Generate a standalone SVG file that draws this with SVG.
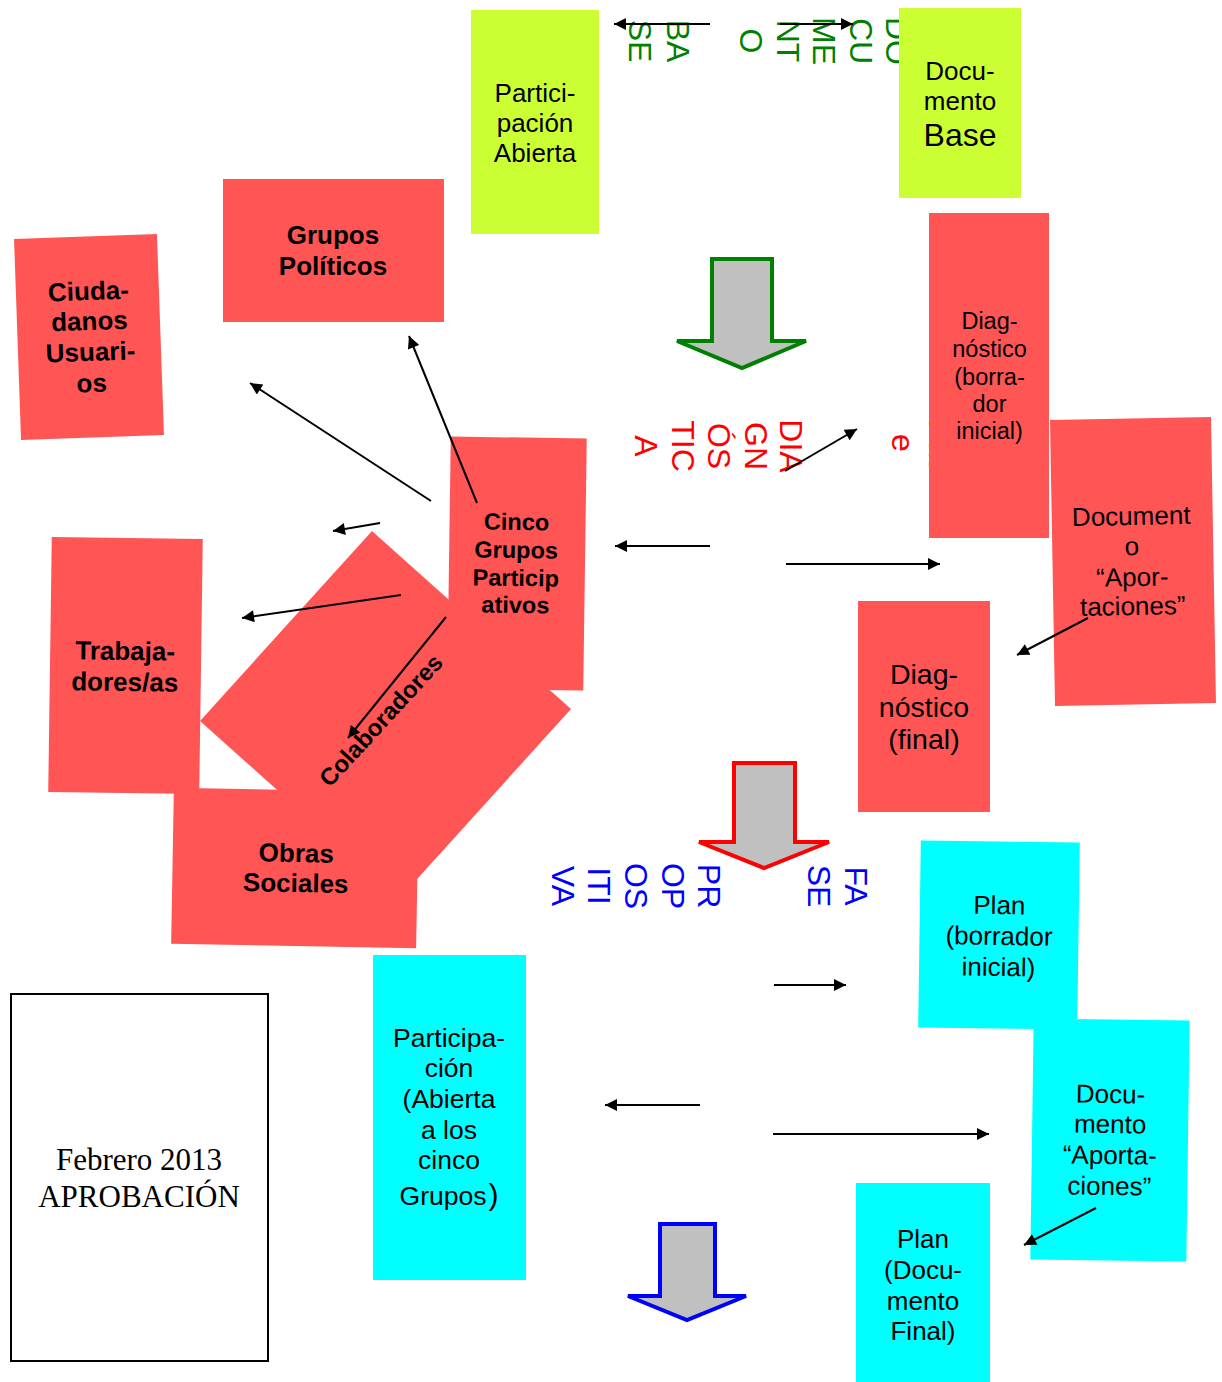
<svg xmlns="http://www.w3.org/2000/svg" width="1222" height="1382" viewBox="0 0 1222 1382">
<style>
.lime{fill:#ccff33}
.red{fill:#ff5555}
.cyan{fill:#00ffff}
.t{font-family:"Liberation Sans",Arial,sans-serif;fill:#000;text-anchor:middle}
.b{font-weight:bold}
.v{font-family:"Liberation Sans",Arial,sans-serif;font-size:32px;text-anchor:middle}
.vg{fill:#008000}
.vr{fill:#ff0000}
.vb{fill:#0000ff}
.big{fill:#c0c0c0;stroke-width:4}
.c{stroke:#000;stroke-width:2;fill:none;marker-end:url(#ah)}
</style>
<defs>
<marker id="ah" viewBox="0 0 10 10" refX="10" refY="5" markerWidth="15" markerHeight="12" markerUnits="userSpaceOnUse" orient="auto"><path d="M0,0 L10,5 L0,10 z" fill="#000"/></marker>
</defs>
<rect width="1222" height="1382" fill="#fff"/>

<!-- vertical labels -->
<g id="label-documento-base" class="v vg">
<text transform="translate(886,41) rotate(90)">DO</text>
<text transform="translate(850,41) rotate(90)">CU</text>
<text transform="translate(813,41) rotate(90)">ME</text>
<text transform="translate(777,41) rotate(90)">NT</text>
<text transform="translate(740,41) rotate(90)">O</text>
<text transform="translate(667,41) rotate(90)">BA</text>
<text transform="translate(629,41) rotate(90)">SE</text>
</g>
<g id="label-fase-diagnostica" class="v vr">
<text transform="translate(929,446) rotate(90)">Fas</text>
<text transform="translate(892,443) rotate(90)">e</text>
<text transform="translate(780,446) rotate(90)">DIA</text>
<text transform="translate(745,446) rotate(90)">GN</text>
<text transform="translate(708,446) rotate(90)">ÓS</text>
<text transform="translate(672,446) rotate(90)">TIC</text>
<text transform="translate(635,446) rotate(90)">A</text>
</g>
<g id="label-fase-propositiva" class="v vb">
<text transform="translate(845,886) rotate(90)">FA</text>
<text transform="translate(808,886) rotate(90)">SE</text>
<text transform="translate(698,886) rotate(90)">PR</text>
<text transform="translate(662,886) rotate(90)">OP</text>
<text transform="translate(625,886) rotate(90)">OS</text>
<text transform="translate(588,886) rotate(90)">ITI</text>
<text transform="translate(552,886) rotate(90)">VA</text>
</g>

<!-- big arrows -->
<g id="arrow-green"><path class="big" stroke="#008000" d="M712,259 H772 V341 H806 L742,368 L677,341 H712 Z"/></g>
<g id="arrow-red"><path class="big" stroke="#ff0000" d="M734,763 H795 V842 H829 L764,868 L699,842 H734 Z"/></g>
<g id="arrow-blue"><path class="big" stroke="#0000ff" d="M660,1224 H715 V1296 H746 L687,1320 L628,1296 H660 Z"/></g>

<!-- nodes -->
<g id="participacion-abierta">
<rect class="lime" x="471" y="10" width="128" height="224"/>
<text class="t" font-size="26" x="535" y="102">Partici-</text>
<text class="t" font-size="26" x="535" y="132">pación</text>
<text class="t" font-size="26" x="535" y="162">Abierta</text>
</g>
<g id="documento-base">
<rect class="lime" x="899" y="8" width="122" height="190"/>
<text class="t" font-size="26" x="960" y="80">Docu-</text>
<text class="t" font-size="26" x="960" y="110">mento</text>
<text class="t" font-size="32" x="960" y="146">Base</text>
</g>
<g id="grupos-politicos">
<rect class="red" x="223" y="179" width="221" height="143"/>
<text class="t b" font-size="26" x="333" y="244">Grupos</text>
<text class="t b" font-size="26" x="333" y="275">Políticos</text>
</g>
<g id="ciudadanos-usuarios" transform="rotate(-2 89 337)">
<rect class="red" x="17.5" y="236.5" width="143" height="201"/>
<text class="t b" font-size="26" x="90" y="300">Ciuda-</text>
<text class="t b" font-size="26" x="90" y="330">danos</text>
<text class="t b" font-size="26" x="90" y="361">Usuari-</text>
<text class="t b" font-size="26" x="90" y="392">os</text>
</g>
<g id="trabajadores" transform="rotate(0.8 125.5 665.5)">
<rect class="red" x="50" y="538" width="151" height="255"/>
<text class="t b" font-size="26" x="125" y="660">Trabaja-</text>
<text class="t b" font-size="26" x="125" y="691">dores/as</text>
</g>
<g id="colaboradores">
<polygon class="red" points="372,531 571,709 399,899 200,721"/>
<text class="t b" font-size="24" transform="translate(387,726) rotate(-47.4)">Colaboradores</text>
</g>
<g id="cinco-grupos" transform="rotate(0.8 517 563.5)">
<rect class="red" x="449" y="437.5" width="136" height="252"/>
<text class="t b" font-size="23.5" x="516" y="530">Cinco</text>
<text class="t b" font-size="23.5" x="516" y="558">Grupos</text>
<text class="t b" font-size="23.5" x="516" y="586">Particip</text>
<text class="t b" font-size="23.5" x="516" y="613">ativos</text>
</g>
<g id="obras-sociales" transform="rotate(1 295 868)">
<rect class="red" x="172.5" y="790" width="245" height="156"/>
<text class="t b" font-size="26" x="296" y="862">Obras</text>
<text class="t b" font-size="26" x="296" y="892">Sociales</text>
</g>
<g id="diagnostico-borrador">
<rect class="red" x="929" y="213" width="120" height="325"/>
<text class="t" font-size="23.5" x="989.5" y="329">Diag-</text>
<text class="t" font-size="23.5" x="989.5" y="357">nóstico</text>
<text class="t" font-size="23.5" x="989.5" y="385">(borra-</text>
<text class="t" font-size="23.5" x="989.5" y="412">dor</text>
<text class="t" font-size="23.5" x="989.5" y="439">inicial)</text>
</g>
<g id="documento-aportaciones" transform="rotate(-1 1133 561.5)">
<rect class="red" x="1052.5" y="418.5" width="161" height="286"/>
<text class="t" font-size="26" x="1132" y="525">Document</text>
<text class="t" font-size="26" x="1132" y="555">o</text>
<text class="t" font-size="26" x="1132" y="586">“Apor-</text>
<text class="t" font-size="26" x="1132" y="615">taciones”</text>
</g>
<g id="diagnostico-final">
<rect class="red" x="858" y="601" width="132" height="211"/>
<text class="t" font-size="28.5" x="924" y="684">Diag-</text>
<text class="t" font-size="28.5" x="924" y="717">nóstico</text>
<text class="t" font-size="28.5" x="924" y="749">(final)</text>
</g>
<g id="plan-borrador" transform="rotate(0.8 999 935)">
<rect class="cyan" x="919.5" y="841.5" width="159" height="187"/>
<text class="t" font-size="26" x="999" y="914">Plan</text>
<text class="t" font-size="26" x="999" y="945">(borrador</text>
<text class="t" font-size="26" x="999" y="976">inicial)</text>
</g>
<g id="documento-aportaciones-plan" transform="rotate(0.8 1110 1140)">
<rect class="cyan" x="1032" y="1019.5" width="156" height="241"/>
<text class="t" font-size="26" x="1110" y="1103">Docu-</text>
<text class="t" font-size="26" x="1110" y="1133">mento</text>
<text class="t" font-size="26" x="1110" y="1164">“Aporta-</text>
<text class="t" font-size="26" x="1110" y="1195">ciones”</text>
</g>
<g id="plan-final">
<rect class="cyan" x="856" y="1183" width="134" height="199"/>
<text class="t" font-size="26" x="923" y="1248">Plan</text>
<text class="t" font-size="26" x="923" y="1279">(Docu-</text>
<text class="t" font-size="26" x="923" y="1310">mento</text>
<text class="t" font-size="26" x="923" y="1340">Final)</text>
</g>
<g id="participacion-cinco">
<rect class="cyan" x="373" y="955" width="153" height="325"/>
<text class="t" font-size="26.5" x="449" y="1047">Participa-</text>
<text class="t" font-size="26.5" x="449" y="1077">ción</text>
<text class="t" font-size="26.5" x="449" y="1108">(Abierta</text>
<text class="t" font-size="26.5" x="449" y="1139">a los</text>
<text class="t" font-size="26.5" x="449" y="1169">cinco</text>
<text class="t" font-size="26.5" x="449" y="1205">Grupos<tspan font-size="30" dx="2">)</tspan></text>
</g>
<g id="aprobacion">
<rect x="11" y="994" width="257" height="367" fill="#fff" stroke="#000" stroke-width="2"/>
<text font-family="'Liberation Serif','Times New Roman',serif" font-size="31" text-anchor="middle" x="139" y="1170">Febrero 2013</text>
<text font-family="'Liberation Serif','Times New Roman',serif" font-size="31" text-anchor="middle" x="139" y="1207">APROBACIÓN</text>
</g>

<!-- connectors -->
<g id="connectors">
<line class="c" x1="710" y1="24" x2="614" y2="24"/>
<line class="c" x1="780" y1="24" x2="853" y2="24"/>
<line class="c" x1="477" y1="503" x2="409" y2="336"/>
<line class="c" x1="431" y1="501" x2="250" y2="383"/>
<line class="c" x1="380" y1="523" x2="333" y2="531"/>
<line class="c" x1="401" y1="595" x2="242" y2="618"/>
<line class="c" x1="446" y1="617" x2="348" y2="738"/>
<line class="c" x1="710" y1="546" x2="615" y2="546"/>
<line class="c" x1="786" y1="564" x2="940" y2="564"/>
<line class="c" x1="785" y1="471" x2="857" y2="429"/>
<line class="c" x1="1088" y1="618" x2="1017" y2="655"/>
<line class="c" x1="774" y1="985" x2="846" y2="985"/>
<line class="c" x1="700" y1="1105" x2="605" y2="1105"/>
<line class="c" x1="773" y1="1134" x2="989" y2="1134"/>
<line class="c" x1="1096" y1="1208" x2="1024" y2="1245"/>
</g>
</svg>
